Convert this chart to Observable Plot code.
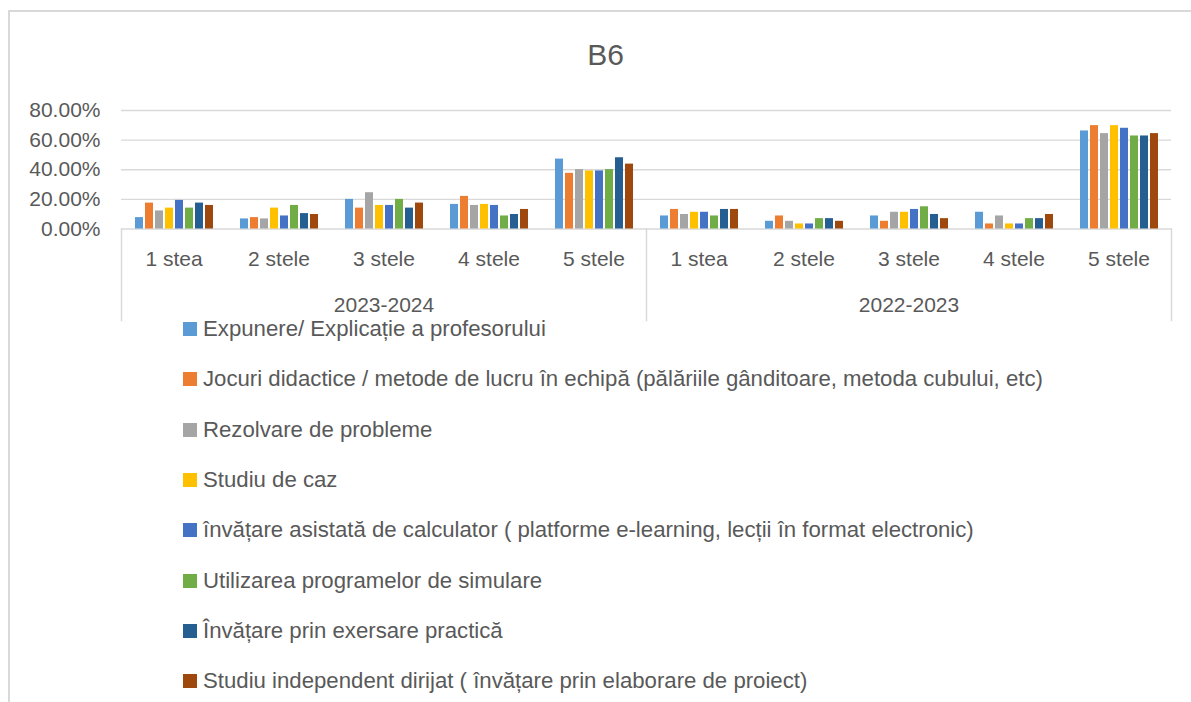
<!DOCTYPE html>
<html>
<head>
<meta charset="utf-8">
<script src="https://cdn.jsdelivr.net/npm/d3@7"></script>
<script src="https://cdn.jsdelivr.net/npm/@observablehq/plot@0.6"></script>
<style>
html, body { margin: 0; padding: 0; background: #fff; overflow: hidden; width: 1191px; height: 702px; font-family: "Liberation Sans", Arial, sans-serif; }
#frame { position: absolute; left: 8px; top: 10px; width: 1400px; height: 900px; border-left: 2px solid #d9d9d9; border-top: 2px solid #d9d9d9; }
#title { position: absolute; left: 0; width: 1211px; top: 36px; line-height: 38px; text-align: center; font-size: 30px; color: #595959; }
#chart { position: absolute; left: 0; top: 90px; }
.item { position: absolute; left: 183px; height: 30px; line-height: 30px; font-size: 22.2px; color: #595959; white-space: nowrap; }
.item .sw { position: absolute; left: 0; top: 8px; width: 14px; height: 14px; }
.item .lb { position: absolute; left: 20px; top: 0; }
</style>
</head>
<body>
<div id="frame"></div>
<div id="title">B6</div>
<div id="chart"></div>
<div id="legend"></div>
<script>
const years = ["2023-2024", "2022-2023"];
const ratings = ["1 stea", "2 stele", "3 stele", "4 stele", "5 stele"];
const series = [
  "Expunere/ Explicație a profesorului",
  "Jocuri didactice / metode de lucru în echipă (pălăriile gânditoare, metoda cubului, etc)",
  "Rezolvare de probleme",
  "Studiu de caz",
  "învățare asistată de calculator ( platforme e-learning, lecții în format electronic)",
  "Utilizarea programelor de simulare",
  "Învățare prin exersare practică",
  "Studiu independent dirijat ( învățare prin elaborare de proiect)"
];
const colors = ["#5B9BD5", "#ED7D31", "#A5A5A5", "#FFC000", "#4472C4", "#70AD47", "#255E91", "#9E480E"];
const yTicks = [0, 20, 40, 60, 80];

// rows = ratings, columns = series (percent)
const values2023_2024 = [
  [7.7, 17.5, 12.2, 14.1, 19.3, 14.1, 17.5, 15.9],
  [6.8, 7.7, 6.8, 14.1, 8.8, 15.9, 10.4, 9.8],
  [20.0, 14.1, 24.5, 15.9, 15.9, 20.0, 14.1, 17.5],
  [16.6, 22.0, 15.9, 16.6, 15.9, 8.8, 9.8, 13.2],
  [47.2, 37.6, 40.1, 39.2, 39.2, 40.1, 48.1, 43.8]
];
const values2022_2023 = [
  [8.8, 13.2, 9.8, 11.3, 11.3, 8.8, 13.2, 13.2],
  [5.2, 8.8, 5.2, 3.4, 3.4, 7.0, 7.0, 5.2],
  [8.8, 5.2, 11.3, 11.3, 13.2, 15.0, 9.8, 7.0],
  [11.3, 3.4, 8.8, 3.4, 3.4, 7.0, 7.0, 9.8],
  [66.2, 69.8, 64.4, 69.8, 68.0, 62.8, 62.8, 64.4]
];

const yearValues = [values2023_2024, values2022_2023];
const rows = [];
years.forEach((yr, yi) => ratings.forEach((r, ri) => series.forEach((s, si) =>
  rows.push({group: yr + "|" + r, series: s, value: yearValues[yi][ri][si]}))));
const groups = years.flatMap(y => ratings.map(r => y + "|" + r));

const sepStyle = {stroke: "#d9d9d9", strokeWidth: 1.5, insetTop: 118.5, insetBottom: -91.5};

const chart = Plot.plot({
  width: 1191,
  height: 234,
  marginTop: 20,
  marginBottom: 95.5,
  marginLeft: 119,
  marginRight: 18,
  style: {fontFamily: '"Liberation Sans", Arial, sans-serif', fontSize: "21px", color: "#595959", background: "transparent", overflow: "visible"},
  fx: {domain: groups, padding: 0, axis: "bottom", label: null, tickFormat: d => d.split("|")[1], tickSize: 0, tickPadding: 22},
  x: {domain: series, paddingInner: 0.23, paddingOuter: 0.9, axis: null},
  y: {domain: [0, 80], ticks: yTicks, tickFormat: d => d.toFixed(2) + "%", tickSize: 0, tickPadding: 21, label: null},
  color: {domain: series, range: colors},
  marks: [
    Plot.gridY(yTicks, {stroke: "#d9d9d9", strokeOpacity: 1, strokeWidth: 1.3}),
    Plot.barY(rows, {fx: "group", x: "series", y: "value", fill: "series"}),
    Plot.text(years, {fx: d => d + "|3 stele", text: d => d, frameAnchor: "bottom", dy: 82.5, fill: "#595959"}),
    Plot.frame({anchor: "left", fx: groups[0], ...sepStyle}),
    Plot.frame({anchor: "left", fx: groups[5], ...sepStyle}),
    Plot.frame({anchor: "right", fx: groups[9], ...sepStyle})
  ]
});
document.getElementById("chart").appendChild(chart);

const legend = document.getElementById("legend");
series.forEach((s, i) => {
  const item = document.createElement("div");
  item.className = "item";
  item.style.top = (314 + i * 50.3) + "px";
  const sw = document.createElement("span");
  sw.className = "sw";
  sw.style.background = colors[i];
  const lb = document.createElement("span");
  lb.className = "lb";
  lb.textContent = s;
  item.appendChild(sw);
  item.appendChild(lb);
  legend.appendChild(item);
});
</script>
</body>
</html>
